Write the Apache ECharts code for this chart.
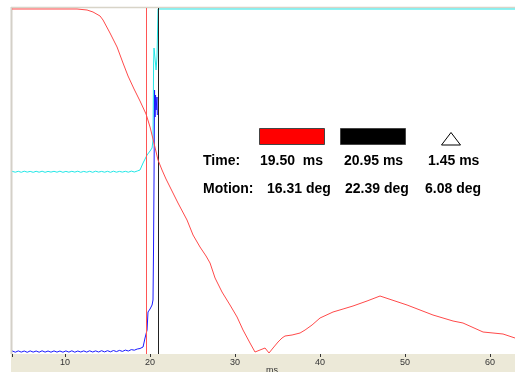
<!DOCTYPE html>
<html>
<head>
<meta charset="utf-8">
<script src="https://cdn.jsdelivr.net/npm/echarts@6/dist/echarts.min.js"></script>
<style>html,body{margin:0;padding:0;background:#fff}#c{width:515px;height:372px}</style>
</head>
<body>
<div id="c"></div>
<script>
// x: time in ms, y: trace level (plot units, 0 = bottom, 346 = top)
var xTicks = [10, 20, 30, 40, 50, 60];
var markerTimes = [19.5, 20.95];
var rowLabels = ['Time:', 'Motion:'];
var timeTexts = ['19.50  ms', '20.95 ms', '1.45 ms'];
var motionTexts = ['16.31 deg', '22.39 deg', '6.08 deg'];

var redTime = [3.76, 11.41, 12.59, 13.29, 14.12, 14.47, 15.29, 16.12, 16.82, 17.41, 18.12, 18.82, 19.53, 20.0, 20.35, 20.94, 21.41, 21.88, 22.35, 23.29, 24.35, 25.06, 25.88, 26.59, 27.06, 27.65, 28.47, 29.41, 30.24, 30.94, 31.76, 32.35, 32.94, 33.53, 34.0, 34.47, 35.06, 35.53, 35.88, 36.71, 37.65, 38.24, 39.06, 40.0, 41.53, 42.71, 43.88, 45.53, 47.06, 47.41, 50.24, 53.29, 55.65, 56.82, 59.18, 61.53, 62.94];
var redValue = [345, 345, 344, 342, 338, 334, 321, 307, 291, 278, 265, 253, 240, 227, 215, 194, 184, 175, 167, 151, 134, 119, 107, 98, 91, 76, 62, 49, 37, 24, 11, 2, 4, 6, 1, 6, 12, 16, 18, 19, 21, 24, 29, 36, 42, 45, 48, 53, 58, 57, 49, 39, 33, 31, 22, 20, 16];

var noiseTime = [3.8, 4.15, 4.5, 4.85, 5.2, 5.55, 5.9, 6.25, 6.6, 6.95, 7.3, 7.65, 8.0, 8.35, 8.7, 9.05, 9.4, 9.75, 10.1, 10.45, 10.8, 11.15, 11.5, 11.85, 12.2, 12.55, 12.9, 13.25, 13.6, 13.95, 14.3, 14.65, 15.0, 15.35, 15.7, 16.05, 16.4, 16.75, 17.1, 17.45, 17.8, 18.15, 18.5];
var cyanNoise = [182.6, 181.8, 182.7, 181.7, 182.8, 181.9, 182.6, 181.7, 182.7, 181.8, 182.8, 181.7, 182.6, 181.9, 182.7, 181.8, 182.8, 181.7, 182.6, 181.8, 182.7, 181.9, 182.8, 181.7, 182.6, 181.8, 182.7, 181.7, 182.8, 181.9, 182.6, 181.8, 182.7, 181.7, 182.8, 181.8, 182.6, 181.9, 182.7, 181.8, 182.9, 182.0, 183.0];
var blueNoise = [3.0, 1.8, 3.1, 1.9, 3.0, 1.7, 3.1, 1.9, 3.0, 1.8, 3.2, 1.9, 3.0, 1.8, 3.1, 1.9, 3.0, 1.8, 3.1, 1.9, 3.2, 1.8, 3.0, 2.0, 3.1, 1.9, 3.2, 2.0, 3.1, 2.0, 3.3, 2.1, 3.3, 2.2, 3.5, 2.4, 3.6, 2.6, 3.9, 3.0, 4.4, 3.8, 5.0];
var cyanRiseTime = [18.82, 19.18, 19.65, 20.0, 20.24, 20.35, 20.42, 20.47, 20.59, 20.65, 20.71, 20.82, 20.94, 62.94];
var cyanRiseValue = [184, 191, 199, 203, 206, 214, 290, 306, 304, 290, 284, 297, 345, 345];
var blueRiseTime = [18.82, 19.18, 19.41, 19.65, 19.76, 20.0, 20.24, 20.35, 20.41, 20.47, 20.53, 20.59, 20.65, 20.71, 20.82, 20.86];
var blueRiseValue = [5.5, 7, 16, 24, 42, 45, 49, 54, 104, 174, 264, 237, 259, 244, 257, 239];

function pairs(t, v) { return t.map(function (x, i) { return [x, v[i]]; }); }
var redData = pairs(redTime, redValue);
var cyanData = pairs(noiseTime, cyanNoise).concat(pairs(cyanRiseTime, cyanRiseValue));
var blueData = pairs(noiseTime, blueNoise).concat(pairs(blueRiseTime, blueRiseValue));

var chart = echarts.init(document.getElementById('c'), null, {renderer: 'canvas'});
var font = 'bold 14px "Liberation Sans", Arial, sans-serif';
var colX1 = [260, 344, 428];
var colX2 = [267, 345, 425];
var rowY = [161, 189.5];
var graphics = [
  {type: 'rect', z: -1, shape: {x: 11, y: 354, width: 504, height: 18}, style: {fill: '#ECE9D8'}},
  {type: 'line', z: -1, shape: {x1: 11.5, y1: 7, x2: 11.5, y2: 354}, style: {stroke: '#D4D0C8', lineWidth: 2}},
  {type: 'line', z: -1, shape: {x1: 11, y1: 7.5, x2: 515, y2: 7.5}, style: {stroke: '#D8D4C8', lineWidth: 1.5}},
  {type: 'text', z: 50, style: {text: 'ms', x: 272, y: 366, fill: '#333', font: '9px "Liberation Sans", Arial, sans-serif', textAlign: 'center'}},
  {type: 'rect', z: 50, shape: {x: 259.5, y: 128.5, width: 65, height: 16}, style: {fill: '#FF0000', stroke: '#444', lineWidth: 1}},
  {type: 'rect', z: 50, shape: {x: 340.5, y: 128.5, width: 65, height: 16}, style: {fill: '#000000', stroke: '#444', lineWidth: 1}},
  {type: 'polygon', z: 50, shape: {points: [[451, 132.5], [441.5, 145], [460.5, 145]]}, style: {fill: '#fff', stroke: '#000', lineWidth: 1}},
  {type: 'text', z: 50, style: {text: rowLabels[0], x: 203, y: rowY[0], fill: '#000', font: font, textVerticalAlign: 'middle'}},
  {type: 'text', z: 50, style: {text: rowLabels[1], x: 203, y: rowY[1], fill: '#000', font: font, textVerticalAlign: 'middle'}}
];
timeTexts.forEach(function (t, i) {
  graphics.push({type: 'text', z: 50, style: {text: t, x: colX1[i], y: rowY[0], fill: '#000', font: font, textVerticalAlign: 'middle'}});
});
motionTexts.forEach(function (t, i) {
  graphics.push({type: 'text', z: 50, style: {text: t, x: colX2[i], y: rowY[1], fill: '#000', font: font, textVerticalAlign: 'middle'}});
});

chart.setOption({
  animation: false,
  backgroundColor: '#ffffff',
  grid: {left: 12, right: 0, top: 8, bottom: 18, containLabel: false},
  xAxis: {
    type: 'value', min: 3.76, max: 62.94,
    axisLine: {show: false},
    splitLine: {show: false},
    axisTick: {show: true, length: 3, customValues: [3.8].concat(xTicks), lineStyle: {color: '#333', width: 1}},
    axisLabel: {customValues: xTicks, fontSize: 9, color: '#333', margin: 4, fontFamily: '"Liberation Sans", Arial, sans-serif'}
  },
  yAxis: {type: 'value', min: 0, max: 346, show: false, splitLine: {show: false}},
  graphic: graphics,
  series: [
    {type: 'line', data: cyanData, symbol: 'none', lineStyle: {color: '#22E6E6', width: 1}, z: 3},
    {type: 'line', data: blueData, symbol: 'none', lineStyle: {color: '#1a1aff', width: 1}, z: 4},
    {type: 'line', data: redData, symbol: 'none', lineStyle: {color: '#FF4A4A', width: 1}, z: 5,
      markLine: {
        silent: true, symbol: ['none', 'none'], label: {show: false},
        data: [
          {xAxis: markerTimes[0], lineStyle: {color: '#FF5555', type: 'solid', width: 1}},
          {xAxis: markerTimes[1], lineStyle: {color: '#222222', type: 'solid', width: 1}}
        ]
      }}
  ]
});
</script>
</body>
</html>
